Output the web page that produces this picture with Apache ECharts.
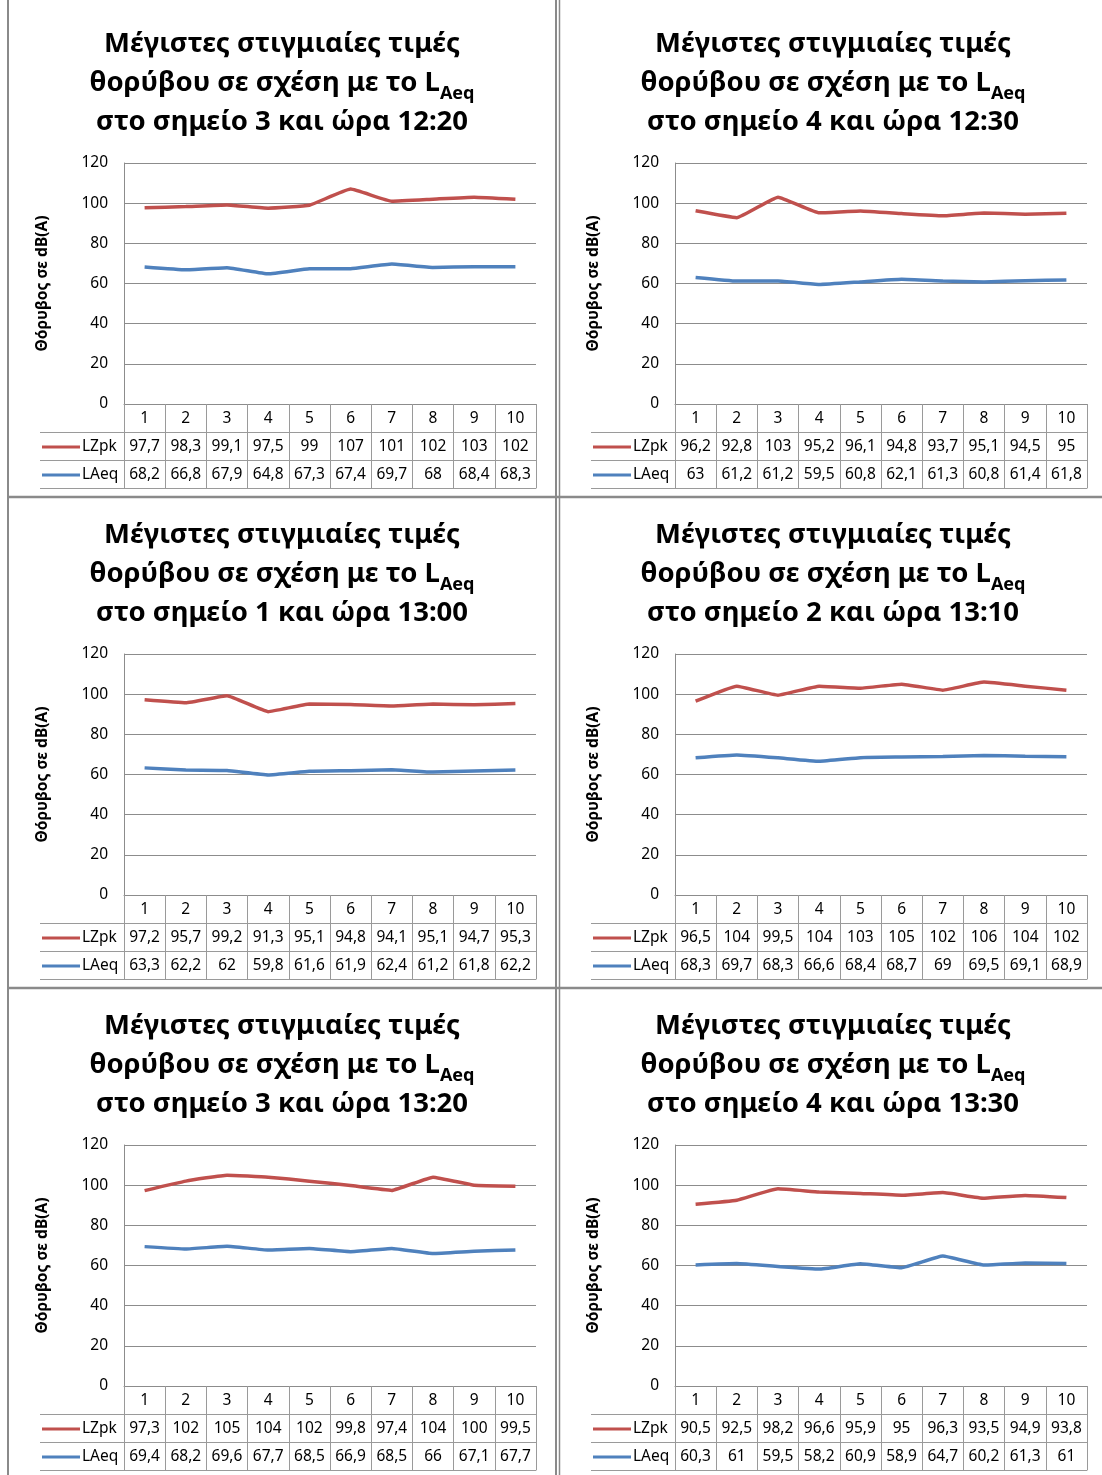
<!DOCTYPE html>
<html>
<head>
<meta charset="utf-8">
<script src="https://cdn.jsdelivr.net/npm/echarts@6/dist/echarts.min.js"></script>
<style>
  html, body { margin: 0; padding: 0; background: #fff; }
  #c { width: 1102px; height: 1475px; }
</style>
</head>
<body>
<div id="c"></div>
<script>
// Measurement points along the route (x axis categories)
const categories = ['1', '2', '3', '4', '5', '6', '7', '8', '9', '10'];
const yTicks = { min: 0, max: 120, step: 20 };

// Peak (LZpk) and equivalent (LAeq) levels in dB(A), one pair per measurement session
const lzpkP3_1220 = [97.7, 98.3, 99.1, 97.5, 99, 107, 101, 102, 103, 102];
const laeqP3_1220 = [68.2, 66.8, 67.9, 64.8, 67.3, 67.4, 69.7, 68, 68.4, 68.3];
const lzpkP4_1230 = [96.2, 92.8, 103, 95.2, 96.1, 94.8, 93.7, 95.1, 94.5, 95];
const laeqP4_1230 = [63, 61.2, 61.2, 59.5, 60.8, 62.1, 61.3, 60.8, 61.4, 61.8];
const lzpkP1_1300 = [97.2, 95.7, 99.2, 91.3, 95.1, 94.8, 94.1, 95.1, 94.7, 95.3];
const laeqP1_1300 = [63.3, 62.2, 62, 59.8, 61.6, 61.9, 62.4, 61.2, 61.8, 62.2];
const lzpkP2_1310 = [96.5, 104, 99.5, 104, 103, 105, 102, 106, 104, 102];
const laeqP2_1310 = [68.3, 69.7, 68.3, 66.6, 68.4, 68.7, 69, 69.5, 69.1, 68.9];
const lzpkP3_1320 = [97.3, 102, 105, 104, 102, 99.8, 97.4, 104, 100, 99.5];
const laeqP3_1320 = [69.4, 68.2, 69.6, 67.7, 68.5, 66.9, 68.5, 66, 67.1, 67.7];
const lzpkP4_1330 = [90.5, 92.5, 98.2, 96.6, 95.9, 95, 96.3, 93.5, 94.9, 93.8];
const laeqP4_1330 = [60.3, 61, 59.5, 58.2, 60.9, 58.9, 64.7, 60.2, 61.3, 61];

const sessionTitles = [
  'στο σημείο 3 και ώρα 12:20',
  'στο σημείο 4 και ώρα 12:30',
  'στο σημείο 1 και ώρα 13:00',
  'στο σημείο 2 και ώρα 13:10',
  'στο σημείο 3 και ώρα 13:20',
  'στο σημείο 4 και ώρα 13:30'
];
const lzpkSets = [lzpkP3_1220, lzpkP4_1230, lzpkP1_1300, lzpkP2_1310, lzpkP3_1320, lzpkP4_1330];
const laeqSets = [laeqP3_1220, laeqP4_1230, laeqP1_1300, laeqP2_1310, laeqP3_1320, laeqP4_1330];
const seriesNames = ['LZpk', 'LAeq'];
const yAxisTitle = 'Θόρυβος σε dB(A)';

const FONT = 'Noto Sans';
const RED = '#C0504D';
const BLUE = '#4F81BD';
const GRID_LINE = '#8c8c8c';
const TABLE_LINE = '#9a9a9a';
const FRAME = '#8a8a8a';
const ROW_H = 28;

const fmt = v => String(v).replace('.', ',');

const option = {
  backgroundColor: '#fff',
  animation: false,
  title: [], grid: [], xAxis: [], yAxis: [], series: [], legend: [], graphic: []
};

// outer frame between panels
option.graphic.push(
  { type: 'line', shape: { x1: 8, y1: 0, x2: 8, y2: 1475 }, style: { stroke: FRAME, lineWidth: 2 } },
  { type: 'line', shape: { x1: 556, y1: 0, x2: 556, y2: 1475 }, style: { stroke: FRAME, lineWidth: 2 } },
  { type: 'line', shape: { x1: 559.5, y1: 0, x2: 559.5, y2: 1475 }, style: { stroke: FRAME, lineWidth: 1.5 } },
  { type: 'line', shape: { x1: 8, y1: 497, x2: 1102, y2: 497 }, style: { stroke: FRAME, lineWidth: 2.5 } },
  { type: 'line', shape: { x1: 8, y1: 988, x2: 1102, y2: 988 }, style: { stroke: FRAME, lineWidth: 2.5 } }
);

for (let p = 0; p < 6; p++) {
  const ox = (p % 2) * 551;
  const oy = Math.floor(p / 2) * 491;
  const gl = 124 + ox, gt = 163 + oy, gw = 412, gh = 241;
  const lz = lzpkSets[p], la = laeqSets[p];

  option.title.push({
    left: 282 + ox, top: 25 + oy, textAlign: 'center', padding: 0,
    text: '{a|Μέγιστες στιγμιαίες τιμές}\n{a|θορύβου σε σχέση με το L}{s|Aeq}\n{a|' + sessionTitles[p] + '}',
    textStyle: {
      rich: {
        a: { fontFamily: FONT, fontSize: 27.5, fontWeight: 'bold', color: '#000', lineHeight: 39 },
        s: { fontFamily: FONT, fontSize: 18, fontWeight: 'bold', color: '#000', lineHeight: 18, verticalAlign: 'bottom' }
      }
    }
  });

  option.grid.push({ left: gl, top: gt, width: gw, height: gh, containLabel: false });

  option.yAxis.push({
    gridIndex: p, type: 'value', min: yTicks.min, max: yTicks.max, interval: yTicks.step,
    axisLine: { show: true, lineStyle: { color: GRID_LINE } },
    axisTick: { show: false },
    splitLine: { lineStyle: { color: GRID_LINE } },
    axisLabel: { fontFamily: FONT, fontSize: 15.5, color: '#000', margin: 16, padding: [3, 0, 0, 0] },
    name: yAxisTitle, nameLocation: 'middle', nameGap: 73, nameRotate: 90,
    nameTextStyle: { fontFamily: FONT, fontSize: 15.5, fontWeight: 'bold', color: '#000' }
  });

  // data table under the plot: category row, then one row per series
  const rows = [
    { labels: (v, i) => categories[i], tick: true },
    { labels: (v, i) => fmt(lz[i]), tick: true },
    { labels: (v, i) => fmt(la[i]), tick: true },
    { labels: null, tick: false }
  ];
  rows.forEach((r, k) => {
    option.xAxis.push({
      gridIndex: p, type: 'category', data: categories, position: 'bottom',
      offset: k * ROW_H, boundaryGap: true,
      axisLine: { show: true, onZero: false, lineStyle: { color: k === 0 ? GRID_LINE : TABLE_LINE } },
      axisTick: { show: r.tick, interval: 0, length: ROW_H, lineStyle: { color: TABLE_LINE } },
      axisLabel: r.labels ? {
        show: true, interval: 0, margin: 7, fontFamily: FONT, fontSize: 15.5, lineHeight: 16,
        color: '#000', formatter: r.labels
      } : { show: false },
      splitLine: { show: false }
    });
  });

  // left part of the table rows (legend keys column)
  [1, 2, 3].forEach(k => {
    const y = gt + gh + k * ROW_H + 0.5;
    option.graphic.push({
      type: 'line', shape: { x1: 40 + ox, y1: y, x2: gl, y2: y },
      style: { stroke: TABLE_LINE, lineWidth: 1 }
    });
  });

  option.legend.push({
    left: 42 + ox, top: gt + gh + ROW_H + 7, orient: 'vertical', padding: 0,
    itemWidth: 38, itemHeight: 3, itemGap: 12, icon: 'rect', selectedMode: false,
    textStyle: { fontFamily: FONT, fontSize: 15.5, lineHeight: 16, color: '#000', padding: [0, 0, 0, -3] },
    data: seriesNames
  });

  [lz, la].forEach((vals, s) => {
    option.series.push({
      type: 'line', name: seriesNames[s], xAxisIndex: p * 4, yAxisIndex: p,
      data: vals, symbol: 'none', smooth: 0.1,
      lineStyle: { width: 3.5, color: s === 0 ? RED : BLUE },
      itemStyle: { color: s === 0 ? RED : BLUE }
    });
  });
}

const chart = echarts.init(document.getElementById('c'));
chart.setOption(option);
</script>
</body>
</html>
